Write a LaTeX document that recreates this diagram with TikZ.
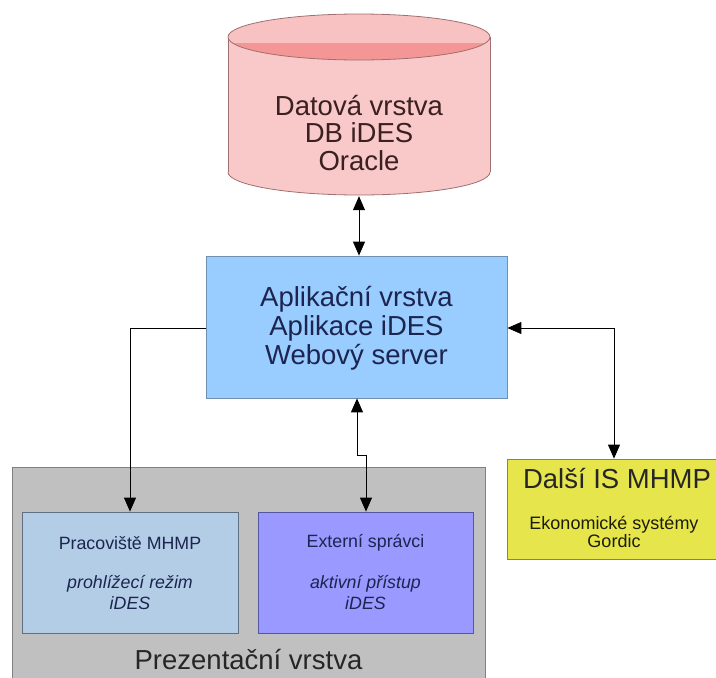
\documentclass[tikz,border=0pt]{standalone}
\usepackage{fontspec}
\setmainfont{Liberation Sans}
\usetikzlibrary{arrows.meta}

\definecolor{dbbody}{HTML}{F9C8C8}
\definecolor{dbtop}{HTML}{F8C2C2}
\definecolor{dbband}{HTML}{F49696}
\definecolor{dbline}{HTML}{A07070}
\definecolor{appfill}{HTML}{99CCFF}
\definecolor{appline}{HTML}{7090B0}
\definecolor{pracfill}{HTML}{B3CDE6}
\definecolor{pracline}{HTML}{607080}
\definecolor{extfill}{HTML}{9999FF}
\definecolor{extline}{HTML}{5555A0}
\definecolor{presfill}{HTML}{C0C0C0}
\definecolor{presline}{HTML}{808080}
\definecolor{isfill}{HTML}{E6E64C}
\definecolor{isline}{HTML}{8A8A30}
\definecolor{navytext}{HTML}{1C2450}
\definecolor{dbtext}{HTML}{3A2020}

\tikzset{
  box/.style={draw, line width=0.8pt, inner sep=0pt, rectangle},
  bigtext/.style={font=\fontsize{27.5}{29}\selectfont, align=center, inner sep=0pt},
  smalltext/.style={font=\fontsize{17.8}{21}\selectfont, align=center, inner sep=0pt, text=navytext},
  link/.style={draw=black, line width=0.9pt},
  tip/.style={-{Triangle[length=14pt,width=12pt]}},
  tips/.style={{Triangle[length=14pt,width=12pt]}-{Triangle[length=14pt,width=12pt]}},
}

\begin{document}
\begin{tikzpicture}[x=1pt, y=-1pt]
\clip (0,0) rectangle (716,678);
\fill[white] (0,0) rectangle (716,678);

% database cylinder
\fill[dbbody] (228,37) rectangle (490,172);
\fill[dbbody] (359,172) ellipse [x radius=131, y radius=23];
\begin{scope}
  \clip (220,172) rectangle (500,200);
  \draw[dbline, line width=0.8pt] (359,172) ellipse [x radius=131, y radius=23];
\end{scope}
\draw[dbline, line width=0.8pt] (228,37) -- (228,172) (490,37) -- (490,172);
\fill[dbtop] (359,37) ellipse [x radius=131, y radius=23];
\begin{scope}
  \clip (220,43) rectangle (500,62);
  \fill[dbband] (359,37) ellipse [x radius=131, y radius=23];
\end{scope}
\draw[dbline, line width=0.8pt] (359,37) ellipse [x radius=131, y radius=23];
\node[minimum width=262, minimum height=183, inner sep=0pt] (db) at (359,104.5) {};
\node[bigtext, text=dbtext, font=\fontsize{27.5}{27.5}\selectfont] (dbtxt) at (359,133) {Datová vrstva\\DB iDES\\Oracle};

% presentation layer container
\node[box, fill=presfill, draw=presline, minimum width=473, minimum height=233] (pres) at (248.5,583.5) {};
\node[bigtext, text=black!85] (prestxt) at (248.5,660) {Prezentační vrstva};

% application layer
\node[box, fill=appfill, draw=appline, minimum width=301, minimum height=142] (app) at (356.5,327) {};
\node[bigtext, text=navytext] (apptxt) at (356.5,328) {Aplikační vrstva\\Aplikace iDES\\Webový server};

% client boxes
\node[box, fill=pracfill, draw=pracline, minimum width=216, minimum height=121] (prac) at (130,572.5) {};
\node[smalltext] (practitle) at (130,543) {Pracoviště MHMP};
\node[smalltext, font=\fontsize{17.8}{21}\selectfont\itshape] (pracsub) at (130,592.5) {prohlížecí režim\\iDES};

\node[box, fill=extfill, draw=extline, minimum width=215, minimum height=121] (ext) at (365.5,572.5) {};
\node[smalltext] (exttitle) at (365.5,543) {Externí správci};
\node[smalltext, font=\fontsize{17.8}{21}\selectfont\itshape] (extsub) at (365.5,592.5) {aktivní přístup\\iDES};

% other information systems
\node[box, fill=isfill, draw=isline, minimum width=210, minimum height=100] (is) at (612,509) {};
\node[bigtext, text=black!85] (istitle) at (617,479) {Další IS MHMP};
\node[smalltext, text=black!80!isline, font=\fontsize{18}{18}\selectfont] (issub) at (614,532) {Ekonomické systémy\\Gordic};

% connectors
\draw[link, tips] (db.south) -- (db.south |- app.north);
\draw[link, tip] (app.west |- 0,328) -| (prac.north);
\coordinate (jog) at (357,455);
\draw[link, tips] (app.south -| jog) -- (jog) -- ++(9,0) -- (ext.north -| 366,0);
\draw[link, tips] (app.east |- 0,328) -| (is.north -| 614,0);
\end{tikzpicture}
\end{document}
